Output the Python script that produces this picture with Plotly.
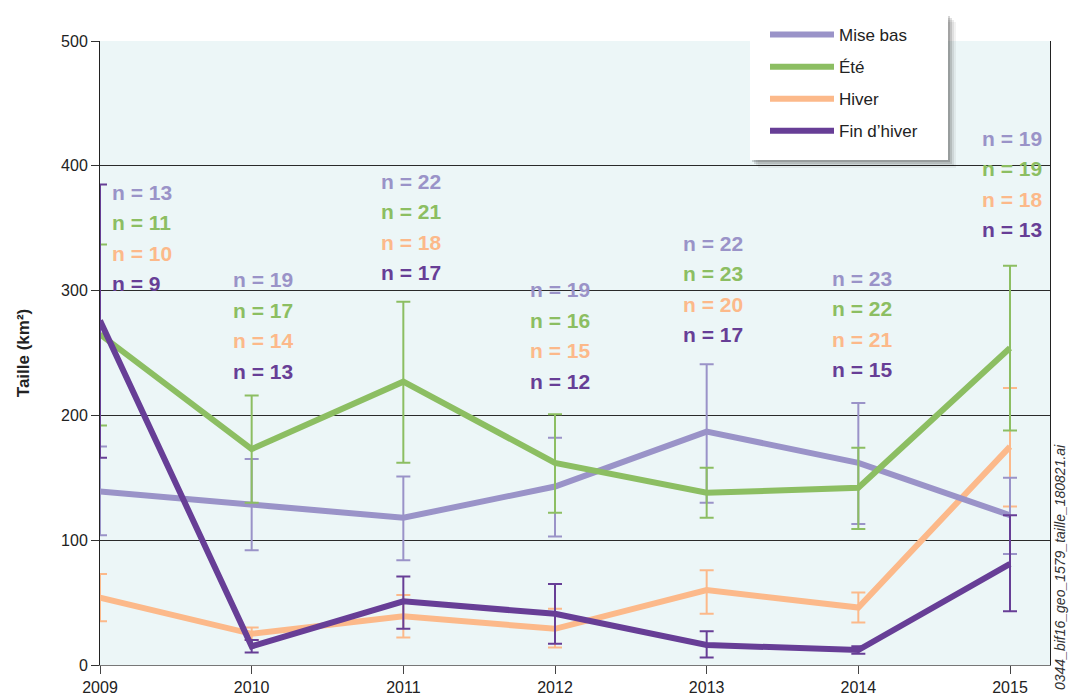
import plotly.graph_objects as go

# Home-range size per season, 2009-2015
years = [2009, 2010, 2011, 2012, 2013, 2014, 2015]
series_names = ["Mise bas", "Été", "Hiver", "Fin d’hiver"]

mise_bas = [139, 129, 118, 143, 187, 162, 120]
mise_bas_hi = [175, 165, 151, 182, 241, 210, 150]
mise_bas_lo = [104, 92, 84, 103, 130, 113, 89]
mise_bas_n = [13, 19, 22, 19, 22, 23, 19]

ete = [265, 173, 227, 162, 138, 142, 254]
ete_hi = [337, 216, 291, 201, 158, 174, 320]
ete_lo = [192, 130, 162, 122, 118, 109, 188]
ete_n = [11, 17, 21, 16, 23, 22, 19]

hiver = [54, 25, 39, 29, 60, 46, 175]
hiver_hi = [73, 30, 56, 45, 76, 58, 222]
hiver_lo = [35, 20, 22, 14, 41, 34, 127]
hiver_n = [10, 14, 18, 15, 20, 21, 18]

fin_hiver = [276, 15, 51, 41, 16, 12, 81]
fin_hiver_hi = [385, 20, 71, 65, 27, 15, 120]
fin_hiver_lo = [166, 10, 29, 17, 6, 9, 43]
fin_hiver_n = [9, 13, 17, 12, 17, 15, 13]

colors = ["#9A93C8", "#8CBE62", "#FCB98A", "#673E96"]

means = [mise_bas, ete, hiver, fin_hiver]
highs = [mise_bas_hi, ete_hi, hiver_hi, fin_hiver_hi]
lows = [mise_bas_lo, ete_lo, hiver_lo, fin_hiver_lo]
counts = [mise_bas_n, ete_n, hiver_n, fin_hiver_n]

# layout of the sample-size labels (pixel offsets from each year tick, label top in axis units)
label_xshift = [10, 11, 8, 5, 6, 4, 2]
label_top = [379, 308.5, 387.8, 300.5, 338, 310, 422]
row_gap = 30.5

FONT = "Liberation Sans, Arial, sans-serif"

fig = go.Figure()
draw_order = [2, 0, 1, 3]
for i in draw_order:
    m = means[i]
    fig.add_trace(go.Scatter(
        x=years, y=m, mode="lines", name=series_names[i],
        legendgroup=f"g{i}", legendrank=i + 1,
        line=dict(color=colors[i], width=6),
        error_y=dict(
            type="data", symmetric=False,
            array=[h - v for h, v in zip(highs[i], m)],
            arrayminus=[v - l for v, l in zip(m, lows[i])],
            color=colors[i], thickness=2, width=7,
        ),
    ))

annotations = []
for j, yr in enumerate(years):
    for k in range(4):
        annotations.append(dict(
            x=yr, y=label_top[j], xref="x", yref="y",
            text=f"<b>n = {counts[k][j]}</b>",
            showarrow=False,
            xanchor="left" if j == 0 else "center",
            yanchor="middle",
            xshift=label_xshift[j],
            yshift=-row_gap * k,
            font=dict(family=FONT, size=21, color=colors[k]),
        ))

annotations.append(dict(
    x=1.0, y=0.0, xref="paper", yref="paper",
    text="<i>0344_bif16_geo_1579_taille_180821.ai</i>",
    showarrow=False, textangle=-90,
    xanchor="center", yanchor="bottom",
    xshift=10, yshift=-27,
    font=dict(family=FONT, size=14, color="#333"),
))


def px_x(p):
    return (p - 100) / 950.0


def px_y(p):
    return (665 - p) / 624.0


# legend panel: soft drop shadow under a white box
shapes = []
for off, alpha in [(8, 0.05), (6, 0.08), (4, 0.12), (2, 0.16)]:
    shapes.append(dict(
        type="rect", xref="paper", yref="paper", layer="above",
        x0=px_x(750 + off), x1=px_x(948 + off),
        y0=px_y(160 + off), y1=px_y(14 + off),
        fillcolor=f"rgba(0,0,0,{alpha})", line=dict(width=0),
    ))
shapes.append(dict(
    type="rect", xref="paper", yref="paper", layer="above",
    x0=px_x(750), x1=px_x(948), y0=px_y(160), y1=px_y(14),
    fillcolor="white", line=dict(width=0),
))

fig.update_layout(
    width=1069, height=700,
    margin=dict(l=100, r=19, t=41, b=35),
    paper_bgcolor="white",
    plot_bgcolor="#ECF6F7",
    font=dict(family=FONT, size=16, color="#222"),
    showlegend=True,
    legend=dict(
        x=px_x(765), y=px_y(17), xanchor="left", yanchor="top",
        bgcolor="rgba(0,0,0,0)", borderwidth=0,
        font=dict(family=FONT, size=17, color="#222"),
        traceorder="grouped", tracegroupgap=7,
        itemwidth=64,
    ),
    annotations=annotations,
    shapes=shapes,
    xaxis=dict(
        range=[2009, 2015 + 40 / 151.67],
        tickvals=years, ticktext=[str(y) for y in years],
        ticks="outside", ticklen=8, tickcolor="#444",
        showgrid=False, zeroline=False, automargin=False,
        showline=True, linecolor="#777", linewidth=1,
        tickfont=dict(family=FONT, size=16, color="#222"),
    ),
    yaxis=dict(
        range=[0, 500], tickvals=[0, 100, 200, 300, 400, 500],
        ticks="outside", ticklen=8, tickcolor="#333",
        showgrid=True, gridcolor="#2a2a2a", gridwidth=1,
        zeroline=False, automargin=False,
        showline=True, linecolor="#222", linewidth=1, mirror=True,
        tickfont=dict(family=FONT, size=16, color="#222"),
        title=dict(text="<b>Taille (km²)</b>", standoff=27,
                   font=dict(family=FONT, size=17, color="#222")),
    ),
)

fig.write_html("out.html")
